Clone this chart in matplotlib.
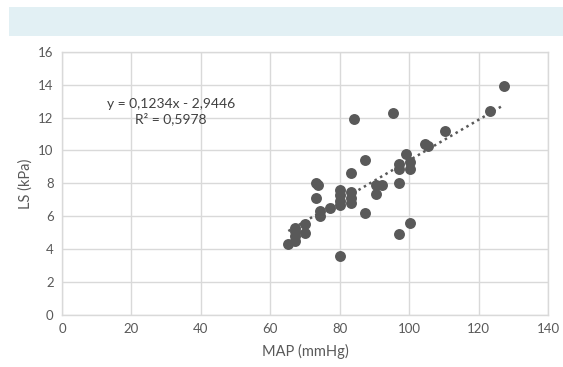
import numpy as np
import matplotlib.pyplot as plt
from matplotlib.patches import Rectangle

# MAP (mmHg) vs LS (kPa)
map_mmhg = [127.3, 123.3, 95.3, 84.2, 110.3, 104.6, 105.5,
            99.1, 100.3, 97.2, 97.2, 100.3, 87.3, 83.2, 97.2,
            90.5, 92.1, 90.5, 73.2, 73.8, 73.2,
            80.1, 80.1, 80.1, 80.1, 83.2, 83.2, 83.2,
            77.2, 74.3, 74.3, 87.3,
            70.0, 70.0, 67.1, 67.1, 67.1, 67.1, 65.2,
            97.2, 100.3, 80.1]
ls_kpa = [13.9, 12.4, 12.3, 11.9, 11.2, 10.4, 10.3,
          9.8, 9.3, 9.2, 8.9, 8.9, 9.4, 8.6, 8.0,
          7.9, 7.9, 7.35, 8.05, 7.9, 7.1,
          7.6, 7.3, 6.9, 6.7, 7.5, 7.1, 6.8,
          6.5, 6.3, 6.0, 6.2,
          5.5, 5.0, 5.3, 5.1, 4.8, 4.5, 4.3,
          4.9, 5.6, 3.6]

slope = 0.1234
intercept = -2.9446
eq_text = "y = 0,1234x - 2,9446\nR² = 0,5978"

x_ticks = [0, 20, 40, 60, 80, 100, 120, 140]
y_ticks = [0, 2, 4, 6, 8, 10, 12, 14, 16]

plt.rcParams["font.family"] = ["Lato", "DejaVu Sans"]

fig = plt.figure(figsize=(5.63, 3.67), dpi=100)
fig.patches.append(Rectangle((0.016, 0.902), 0.984, 0.079, transform=fig.transFigure,
                             facecolor="#e2f0f4", edgecolor="none", zorder=0))

ax = fig.add_axes([0.1101, 0.1417, 0.8633, 0.7174])
ax.set_xlim(0, 140)
ax.set_ylim(0, 16)
ax.set_xticks(x_ticks)
ax.set_yticks(y_ticks)
ax.grid(True, color="#d9d9d9", linewidth=1)
ax.set_axisbelow(True)
for s in ax.spines.values():
    s.set_color("#d9d9d9")
    s.set_linewidth(1)
ax.tick_params(length=0, labelsize=9.5, colors="#595959", pad=6)

ax.scatter(map_mmhg, ls_kpa, s=62, color="#595959", zorder=3, linewidths=0)

x_fit = np.array([min(map_mmhg), max(map_mmhg)])
ax.plot(x_fit, slope * x_fit + intercept, linestyle=(0, (1, 1.5)), color="#595959",
        linewidth=1.8, zorder=2)

ax.text(31.4, 12.35, eq_text, ha="center", va="center", fontsize=10, color="#404040",
        linespacing=1.2)

ax.set_xlabel("MAP (mmHg)", fontsize=10.5, color="#595959", labelpad=6)
ax.set_ylabel("LS (kPa)", fontsize=10.5, color="#595959", labelpad=4)

fig.savefig("out.png", dpi=100)
